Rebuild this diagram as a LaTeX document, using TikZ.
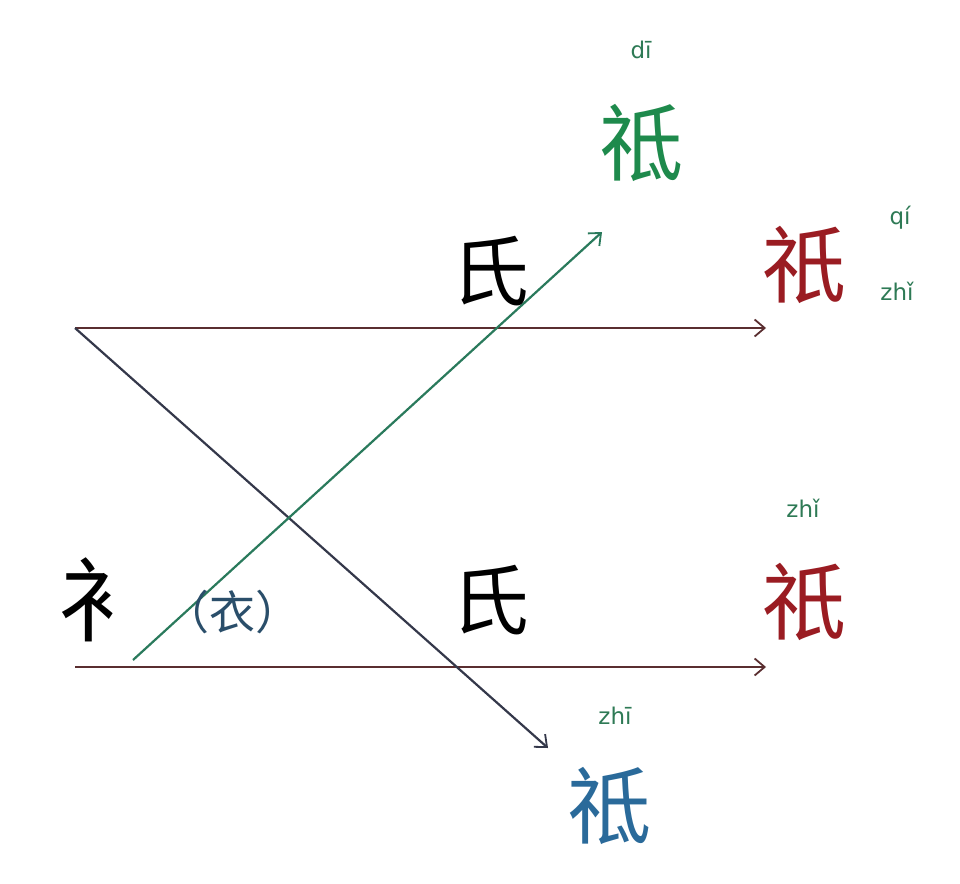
\documentclass[tikz,border=0pt]{standalone}
\usepackage{fontspec}
\newfontfamily\cjk{Noto Sans CJK SC}
\newfontfamily\py{DejaVu Sans}
\usetikzlibrary{arrows.meta}
\definecolor{linered}{HTML}{5A2E30}
\definecolor{diagdark}{HTML}{34384A}
\definecolor{arrgreen}{HTML}{2A7A5C}
\definecolor{chgreen}{HTML}{1E8A4C}
\definecolor{chred}{HTML}{9A1C22}
\definecolor{chblue}{HTML}{2A6A9A}
\definecolor{pygreen}{HTML}{2E7A55}
\definecolor{parblue}{HTML}{2A4E6A}
\tikzset{
  bigch/.style={font=\cjk\fontsize{84}{84}\selectfont, inner sep=0pt},
  midch/.style={font=\cjk\fontsize{78}{78}\selectfont, inner sep=0pt},
  pinyin/.style={font=\py\fontsize{23}{23}\selectfont, text=pygreen, inner sep=0pt},
  conn/.style={line width=2.2pt, -{Straight Barb[length=10pt,width=17pt,line width=1.8pt]}},
}
\begin{document}
\begin{tikzpicture}[x=1pt,y=-1pt]
\useasboundingbox (0,0) rectangle (960,883);
\fill[white] (0,0) rectangle (960,883);
% coordinates
\coordinate (tl) at (75,328);
\coordinate (tr) at (766,328);
\coordinate (bl) at (75,667);
\coordinate (br) at (766,667);
\coordinate (dend) at (548,748);
\coordinate (gs) at (133,660);
\coordinate (gend) at (602,232);
% lines
\draw[conn, linered] (tl) -- (tr);
\draw[conn, linered] (bl) -- (br);
\draw[conn, diagdark] (tl) -- (dend);
\draw[conn, arrgreen] (gs) -- (gend);
% texts
\node[font=\cjk\fontsize{92}{92}\selectfont, inner sep=0pt] (yi) at (104,600) {衤};
\node[font=\cjk\fontsize{46}{46}\selectfont, text=parblue, inner sep=0pt] (yiparen) at (232,612) {（衣）};
\node[midch] (shi1) at (490,271) {氏};
\node[midch] (shi2) at (490,600) {氏};
\node[bigch, text=chgreen] (g) at (641,143) {祗};
\node[pinyin] (gpy) at (641,50) {dī};
\node[bigch, text=chred] (r1) at (804,265) {祇};
\node[pinyin] (r1a) at (900,218) {qí};
\node[pinyin] (r1b) at (897,291) {zhǐ};
\node[pinyin] (r2py) at (803,508) {zhǐ};
\node[bigch, text=chred] (r2) at (804,602) {祇};
\node[pinyin] (bpy) at (615,716) {zhī};
\node[bigch, text=chblue] (b) at (609,806) {祗};
\end{tikzpicture}
\end{document}
